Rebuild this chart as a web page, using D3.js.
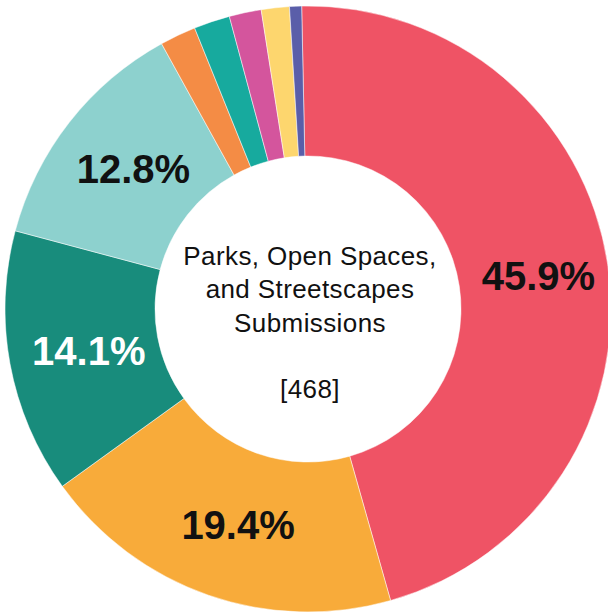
<!DOCTYPE html>
<html>
<head>
<meta charset="utf-8">
<title>Parks, Open Spaces, and Streetscapes Submissions</title>
<style>
  body { margin: 0; background: #fff; }
</style>
</head>
<body>
<script src="https://cdn.jsdelivr.net/npm/d3@7"></script>
<script>
// data (468 submissions in total)
var categories = ["Category 1", "Category 2", "Category 3", "Category 4", "Category 5",
                  "Category 6", "Category 7", "Category 8", "Category 9"];
var counts = [215, 91, 66, 60, 9, 9, 8, 7, 3];
var colors = ["#ef5365", "#f8ab3a", "#188c7c", "#8dd1ce", "#f48c45",
              "#17aa9e", "#d4559d", "#fdd66e", "#5a5ea9"];
var centerLines = ["Parks, Open Spaces,", "and Streetscapes", "Submissions", "", "[468]"];

var width = 608, height = 613;
var cx = 308, cy = 309, outerR = 303, innerR = 153;
var total = d3.sum(counts);
var offset = -1.2 * Math.PI / 180; // first slice starts just left of 12 o'clock

var svg = d3.select("body").append("svg")
    .attr("width", width).attr("height", height);
var g = svg.append("g").attr("transform", "translate(" + cx + "," + cy + ")");

var data = categories.map((c, i) => ({ name: c, value: counts[i], color: colors[i], idx: i }));

var pie = d3.pie().value(d => d.value).sort(null)
    .startAngle(offset).endAngle(2 * Math.PI + offset);
var arc = d3.arc().innerRadius(innerR).outerRadius(outerR);
var arcs = pie(data);

g.selectAll("path").data(arcs).enter().append("path")
    .attr("d", arc)
    .attr("fill", d => d.data.color)
    .attr("stroke", "#fff")
    .attr("stroke-width", 0.5);

// percentage labels on the big slices only
var fmt = d3.format(".1%");
g.selectAll("text.pct").data(arcs.filter(d => d.data.value / total > 0.05)).enter()
    .append("text")
    .attr("class", "pct")
    .attr("x", d => arc.centroid(d)[0])
    .attr("y", d => arc.centroid(d)[1])
    .attr("dx", "5px")
    .attr("dy", "0.36em")
    .attr("text-anchor", "middle")
    .attr("font-family", "'Liberation Sans', Arial, sans-serif")
    .attr("font-weight", "bold")
    .attr("font-size", "40px")
    .attr("fill", d => d.data.idx == 2 ? "#fff" : "#111")
    .text(d => fmt(d.data.value / total));

// text in the hole
g.append("text")
    .attr("text-anchor", "middle")
    .attr("font-family", "'Liberation Sans', Arial, sans-serif")
    .attr("font-size", "26px")
    .attr("letter-spacing", "0.4px")
    .attr("fill", "#111")
    .selectAll("tspan").data(centerLines).enter().append("tspan")
    .attr("x", 2)
    .attr("y", (d, i) => -44 + i * 33.3)
    .text(d => d);
</script>
</body>
</html>
